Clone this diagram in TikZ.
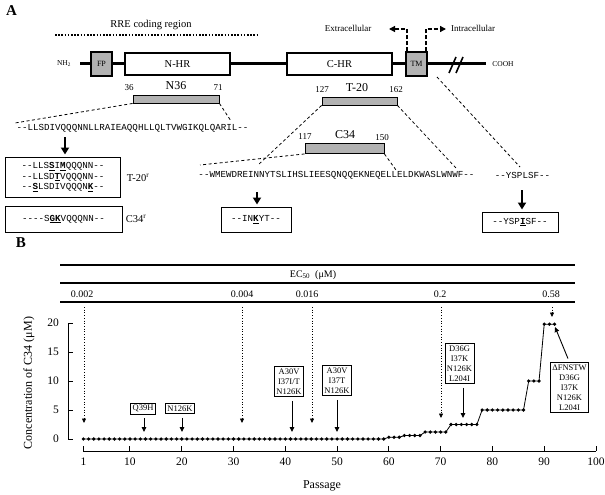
\documentclass[tikz,border=0pt]{standalone}
\usepackage{fontspec}
\setmainfont{Liberation Serif}
\setmonofont{Liberation Mono}
\usetikzlibrary{arrows.meta}
\newcommand{\hit}[1]{\underline{\textbf{#1}}}

\begin{document}
\begin{tikzpicture}
	[x=1pt,y=-1pt,every node/.style={inner sep=0pt},
	panel/.style={font=\fontsize{15}{16}\selectfont\bfseries},
	lbl/.style={font=\fontsize{10.5}{12}\selectfont},
	barlbl/.style={font=\fontsize{12}{13}\selectfont},
	small/.style={font=\fontsize{7.5}{9}\selectfont},
	num/.style={font=\fontsize{9}{10}\selectfont},
	val/.style={font=\fontsize{10}{11}\selectfont},
	axl/.style={font=\fontsize{12}{13}\selectfont},
	ticklbl/.style={font=\fontsize{11.5}{12}\selectfont},
	hrbox/.style={draw,line width=1.3pt,fill=white,minimum height=22pt,font=\fontsize{10.5}{12}\selectfont},
	greybox/.style={draw,line width=1.1pt,fill=gray!60,minimum width=21pt,minimum height=24pt,font=\fontsize{8}{9}\selectfont},
	bar/.style={draw,line width=0.9pt,fill=gray!60,minimum height=8pt},
	seq/.style={font=\ttfamily\fontsize{9.2}{10.5}\selectfont},
	seqbox/.style={seq,draw,line width=1pt,align=center},
	cut/.style={line width=0.8pt,dash pattern=on 3pt off 2.5pt},
	tmarrow/.style={line width=1.3pt,dash pattern=on 4pt off 2pt,-{Triangle[length=6pt,width=6pt]}},
	bigarrow/.style={line width=2.6pt,-{Triangle[length=7pt,width=8pt]},shorten >=2pt},
	mut/.style={draw,line width=0.8pt,align=center,inner sep=2pt,font=\fontsize{8.5}{10}\selectfont},
	mutarrow/.style={line width=0.9pt,-{Triangle[length=5pt,width=4.5pt]},shorten <=4pt},
	ecarrow/.style={line width=0.7pt,dotted,-{Triangle[length=4.5pt,width=4pt]}},
	tablerule/.style={line width=1.2pt}]
	\useasboundingbox (0,0) rectangle (605,495);

	\node[panel] (pa) at (11.5,11) {A};
	\node[lbl] (rre) at (151,25) {RRE coding region};
	\draw[line width=1.6pt,dash pattern=on 1.6pt off 1.6pt] (55,35) -- (258,35);

	\coordinate (bbl) at (80,64);
	\coordinate (bbr) at (486,64);
	\draw[line width=3pt] (bbl) -- (bbr);
	\draw[line width=1.6pt] (449,73) -- (456,57) (456,73) -- (463,57);
	\node[small] (nh) at (64,64) {NH\textsubscript{2}};
	\node[small] (cooh) at (503,64) {COOH};
	\node[greybox] (fp) at (101.5,64) {FP};
	\node[hrbox,minimum width=105pt] (nhr) at (177.5,64) {N-HR};
	\node[hrbox,minimum width=105pt] (chr) at (339.5,64) {C-HR};
	\node[greybox] (tm) at (416.5,64) {TM};

	\node[num] (ext) at (348,28) {Extracellular};
	\node[num] (int) at (473,28) {Intracellular};
	\coordinate (extend) at (389,29);
	\coordinate (intend) at (446,29);
	\draw[tmarrow] ([xshift=1.5pt]tm.north west) |- (extend);
	\draw[tmarrow] ([xshift=-1.5pt]tm.north east) |- (intend);

	\node[bar,minimum width=86pt] (n36) at (176,99) {};
	\node[barlbl] (n36l) at (176,86) {N36};
	\node[num] (n36a) at (129,88) {36};
	\node[num] (n36b) at (218,88) {71};
	\node[bar,minimum width=75pt] (t20) at (359.5,101) {};
	\node[barlbl] (t20l) at (357,88) {T-20};
	\node[num] (t20a) at (322,90) {127};
	\node[num] (t20b) at (396,90) {162};
	\node[bar,minimum width=79pt,minimum height=10pt] (c34) at (344.5,148.5) {};
	\node[barlbl] (c34l) at (345,135) {C34};
	\node[num] (c34a) at (305,137) {117};
	\node[num] (c34b) at (382,138) {150};

	\node[seq] (nseq) at (132.5,128) {--LLSDIVQQQNNLLRAIEAQQHLLQLTVWGIKQLQARIL--};
	\node[seq] (wseq) at (336.5,175) {--WMEWDREINNYTSLIHSLIEESQNQQEKNEQELLELDKWASLWNWF--};
	\node[seq] (yseq) at (522.5,175) {--YSPLSF--};

	\coordinate (na) at (15,123);
	\coordinate (nb) at (231,121);
	\coordinate (ta) at (258,165);
	\coordinate (tb) at (456,168);
	\coordinate (ca) at (200,165);
	\coordinate (cb) at (396,170);
	\coordinate (tma) at (437,77);
	\coordinate (ya) at (520,167);
	\draw[cut] (n36.south west) -- (na);
	\draw[cut] (n36.south east) -- (nb);
	\draw[cut] (t20.south west) -- (ta);
	\draw[cut] (t20.south east) -- (tb);
	\draw[cut] (c34.south west) -- (ca);
	\draw[cut] (c34.south east) -- (cb);
	\draw[cut] (tma) -- (ya);

	\node[seqbox,minimum width=115pt,minimum height=40pt] (t20r) at (63,177) {--LLS\hit{S}I\hit{M}QQQNN--\\--LLSD\hit{T}VQQQNN--\\--\hit{S}LSDIVQQQN\hit{K}--};
	\node[lbl] (t20rl) at (138,178) {T-20\textsuperscript{r}};
	\node[seqbox,minimum width=117pt,minimum height=26pt] (c34r) at (63.5,219) {----S\hit{GK}VQQQNN--};
	\node[lbl] (c34rl) at (136,219) {C34\textsuperscript{r}};
	\node[seqbox,minimum width=70pt,minimum height=25pt] (inkyt) at (256,219.5) {--IN\hit{K}YT--};
	\node[seqbox,minimum width=76pt,minimum height=20pt] (yspisf) at (520,222) {--YSP\hit{I}SF--};

	\coordinate (na1) at (65,137);
	\coordinate (wa1) at (257,192);
	\coordinate (ya1) at (522,190);
	\draw[bigarrow] (na1) -- (na1 |- t20r.north);
	\draw[bigarrow] (wa1) -- (wa1 |- inkyt.north);
	\draw[bigarrow] (ya1) -- (ya1 |- yspisf.north);

	\node[panel] (pb) at (21,243) {B};
	\draw[tablerule] (60,265) -- (575,265) (60,283) -- (575,283) (60,302) -- (575,302);
	\node[val] (ec) at (313,275) {EC\textsubscript{50}\ \ (μM)};
	\node[val] (v1) at (82,294) {0.002};
	\node[val] (v2) at (242,294) {0.004};
	\node[val] (v3) at (307,294) {0.016};
	\node[val] (v4) at (440,294) {0.2};
	\node[val] (v5) at (551,294) {0.58};
	\foreach \n/\x/\y in {1/84/423,2/242/423,3/312/423,4/441/418,5/552/317}
	{
		\coordinate (es\n) at (\x,307);
		\coordinate (ee\n) at (\x,\y);
		\draw[ecarrow] (es\n) -- (ee\n);
	}

	\draw[line width=1pt] (68,323) -- (68,439);
	\foreach \v in {0,5,...,20}
	{
		\draw[line width=1pt] (68,{439-5.8*\v}) -- (73,{439-5.8*\v});
		\node[ticklbl,anchor=east] (yt\v) at (59,{439-5.8*\v}) {\v};
	}
	\draw[line width=1pt] (83,451) -- (596,451);
	\foreach \p in {1,10,20,...,100}
	{
		\draw[line width=1pt] ({78.2+5.178*\p},451) -- ({78.2+5.178*\p},446);
		\node[ticklbl] (xt\p) at ({78.2+5.178*\p},462) {\p};
	}
	\node[axl,rotate=90] (ylab) at (29,383) {Concentration of C34 (μM)};
	\node[axl] (xlab) at (322,486) {Passage};

	\begin{scope}[shift={(78.2pt,-439pt)},x=5.178pt,y=5.8pt]
		\draw[line width=0.8pt] (1,0) -- (59,0) -- (60,0.3) -- (62,0.3) -- (63,0.6) -- (66,0.6) -- (67,1.2) -- (71,1.2) -- (72,2.5) -- (77,2.5) -- (78,5) -- (86,5) -- (87,10) -- (89,10) -- (90,19.8) -- (92,19.8);
		\foreach \a/\b/\c in {1/59/0,60/62/0.3,63/66/0.6,67/71/1.2,72/77/2.5,78/86/5,87/89/10,90/92/19.8}
			\foreach \p in {\a,...,\b}
				\fill (\p,\c) circle (1.8pt);
	\end{scope}

	\node[mut] (q39h) at (143,408.5) {Q39H};
	\node[mut] (n126k) at (180,408.5) {N126K};
	\node[mut] (m41) at (289,381.5) {A30V\\I37I/T\\N126K};
	\node[mut] (m50) at (337,380.5) {A30V\\I37T\\N126K};
	\node[mut] (m74) at (459.5,363.5) {D36G\\I37K\\N126K\\L204I};
	\node[mut] (m91) at (569.5,387.5) {ΔFNSTW\\D36G\\I37K\\N126K\\L204I};
	\coordinate (p13) at (144,432);
	\coordinate (p20) at (182,432);
	\coordinate (p41) at (292,432);
	\coordinate (p50) at (337,432);
	\coordinate (p74) at (463,418);
	\coordinate (p91) at (555,327);
	\draw[mutarrow] (q39h.south -| p13) -- (p13);
	\draw[mutarrow] (n126k.south -| p20) -- (p20);
	\draw[mutarrow] (m41.south -| p41) -- (p41);
	\draw[mutarrow] (m50.south -| p50) -- (p50);
	\draw[mutarrow] (m74.south -| p74) -- (p74);
	\draw[mutarrow] (m91.north) -- (p91);
\end{tikzpicture}
\end{document}
